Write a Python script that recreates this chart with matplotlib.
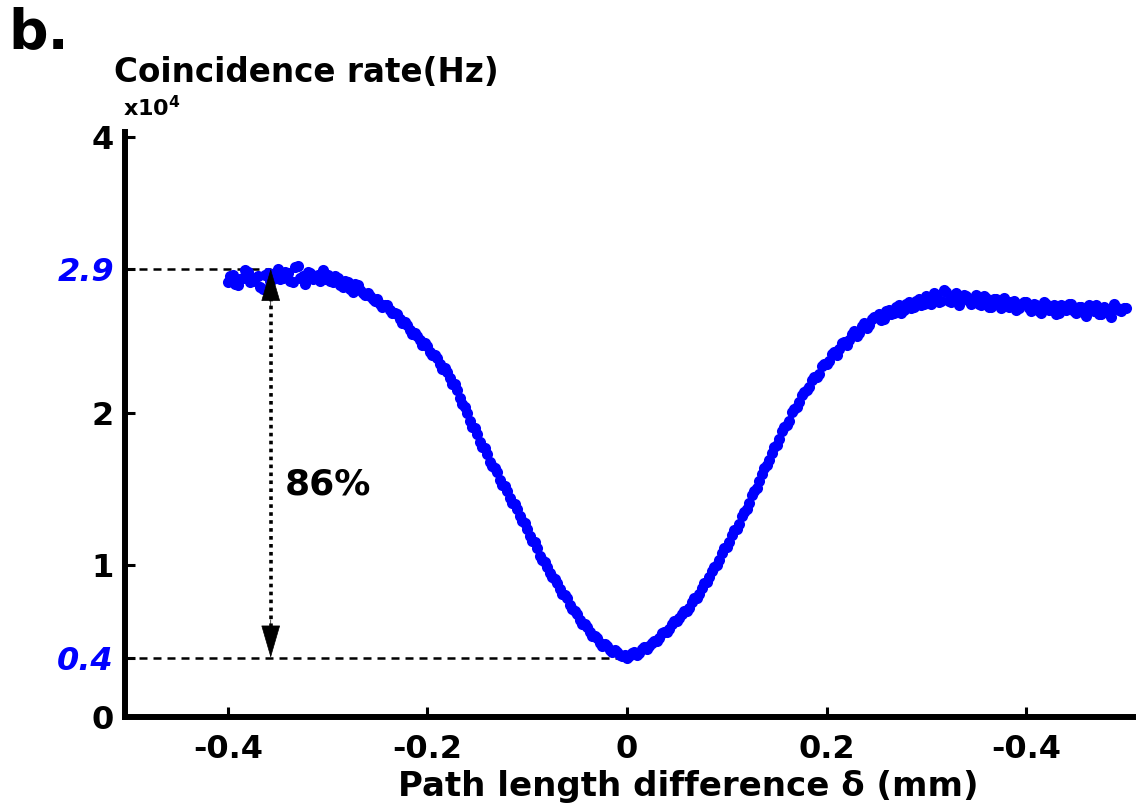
import numpy as np
import matplotlib
matplotlib.use('Agg')
import matplotlib.pyplot as plt

# HOM dip scan: two interleaved sweeps, coincidence rate in units of 1e4 Hz
x_a = np.round(np.arange(-0.400, 0.5001, 0.005), 4)
y_a = [2.86, 2.91, 2.84, 2.89, 2.93, 2.87, 2.90, 2.82, 2.92, 2.88,
       2.95, 2.89, 2.92, 2.86, 2.97, 2.90, 2.93, 2.88, 2.91, 2.94,
       2.91, 2.86, 2.89, 2.83, 2.86, 2.80, 2.84, 2.79, 2.79, 2.75,
       2.75, 2.70, 2.71, 2.66, 2.65, 2.59, 2.58, 2.52, 2.51, 2.45,
       2.44, 2.38, 2.36, 2.29, 2.27, 2.19, 2.15, 2.06, 2.00, 1.91,
       1.86, 1.78, 1.73, 1.65, 1.61, 1.53, 1.49, 1.41, 1.37, 1.29,
       1.24, 1.16, 1.11, 1.03, 0.99, 0.92, 0.88, 0.81, 0.78, 0.71,
       0.68, 0.61, 0.59, 0.53, 0.52, 0.47, 0.47, 0.43, 0.43, 0.40,
       0.39, 0.42, 0.41, 0.45, 0.45, 0.49, 0.50, 0.55, 0.56, 0.61,
       0.63, 0.68, 0.70, 0.76, 0.78, 0.85, 0.89, 0.96, 1.00, 1.08,
       1.12, 1.20, 1.24, 1.32, 1.37, 1.46, 1.51, 1.60, 1.66, 1.74,
       1.79, 1.88, 1.92, 2.01, 2.04, 2.12, 2.15, 2.22, 2.24, 2.31,
       2.32, 2.39, 2.38, 2.46, 2.45, 2.52, 2.51, 2.57, 2.56, 2.62,
       2.63, 2.61, 2.67, 2.65, 2.70, 2.66, 2.72, 2.69, 2.74, 2.71,
       2.77, 2.72, 2.78, 2.74, 2.80, 2.73, 2.79, 2.75, 2.77, 2.72,
       2.78, 2.71, 2.76, 2.70, 2.75, 2.69, 2.74, 2.73, 2.68, 2.72,
       2.73, 2.67, 2.71, 2.66, 2.72, 2.70, 2.65, 2.71, 2.68, 2.72,
       2.66, 2.70, 2.64, 2.69, 2.71, 2.65, 2.68, 2.63, 2.70, 2.67,
       2.69]

x_b = np.round(np.arange(-0.3975, 0.4976, 0.005), 4)
y_b = [2.90, 2.85, 2.88, 2.94, 2.86, 2.89, 2.83, 2.91, 2.87, 2.92,
       2.88, 2.93, 2.87, 2.96, 2.89, 2.85, 2.92, 2.90, 2.87, 2.88,
       2.87, 2.90, 2.84, 2.87, 2.82, 2.85, 2.81, 2.78, 2.77, 2.74,
       2.72, 2.71, 2.68, 2.66, 2.62, 2.60, 2.55, 2.53, 2.48, 2.46,
       2.40, 2.38, 2.32, 2.30, 2.23, 2.19, 2.10, 2.04, 1.95, 1.90,
       1.81, 1.77, 1.68, 1.64, 1.56, 1.52, 1.44, 1.40, 1.32, 1.28,
       1.19, 1.15, 1.06, 1.02, 0.95, 0.91, 0.84, 0.80, 0.74, 0.70,
       0.64, 0.61, 0.56, 0.53, 0.49, 0.48, 0.44, 0.44, 0.41, 0.41,
       0.40, 0.43, 0.42, 0.46, 0.47, 0.50, 0.52, 0.56, 0.58, 0.63,
       0.65, 0.70, 0.72, 0.78, 0.81, 0.88, 0.92, 0.99, 1.03, 1.11,
       1.15, 1.23, 1.27, 1.35, 1.41, 1.49, 1.55, 1.64, 1.69, 1.78,
       1.83, 1.91, 1.95, 2.03, 2.07, 2.14, 2.17, 2.24, 2.26, 2.32,
       2.34, 2.40, 2.42, 2.47, 2.48, 2.54, 2.53, 2.59, 2.58, 2.63,
       2.65, 2.62, 2.68, 2.66, 2.71, 2.68, 2.73, 2.70, 2.75, 2.72,
       2.75, 2.79, 2.73, 2.81, 2.74, 2.77, 2.71, 2.78, 2.74, 2.76,
       2.72, 2.77, 2.70, 2.75, 2.71, 2.76, 2.70, 2.74, 2.69, 2.73,
       2.69, 2.72, 2.67, 2.73, 2.68, 2.71, 2.66, 2.70, 2.72, 2.67,
       2.70, 2.66, 2.71, 2.67, 2.65, 2.70, 2.66, 2.72, 2.68, 2.69]

xticks = [-0.4, -0.2, 0, 0.2, 0.4]
xtick_labels = ['-0.4', '-0.2', '0', '0.2', '-0.4']
yticks = [0, 0.39, 1, 2, 2.95, 3.82]
ytick_labels = ['0', '0.4', '1', '2', '2.9', '4']
blue_ticks = [1, 4]

y_max_level = 2.95
y_min_level = 0.39
arrow_x = -0.357
visibility = '86%'

blue = '#0000ff'

fig = plt.figure(figsize=(11.4, 8.05), dpi=100)
ax = fig.add_axes([125 / 1140, 88 / 805, 1008 / 1140, 585 / 805])

ax.plot(x_a, y_a, 'o', color=blue, ms=8, mew=0)
ax.plot(x_b, y_b, 'o', color=blue, ms=8, mew=0)

ax.set_xlim(-0.503, 0.507)
ax.set_ylim(0, 3.85)

# guide lines
ax.plot([-0.503, arrow_x], [y_max_level, y_max_level], color='black', lw=1.8,
        dashes=(3.2, 2.4), zorder=1)
ax.plot([-0.503, 0.0], [y_min_level, y_min_level], color='black', lw=1.8,
        dashes=(3.2, 2.4), zorder=1)
ax.plot([arrow_x, arrow_x], [y_min_level + 0.15, y_max_level - 0.15], color='black',
        lw=2.6, dashes=(1, 1.2), zorder=3)
head = '-|>,head_length=1.1,head_width=0.32'
ax.annotate('', xy=(arrow_x, y_max_level), xytext=(arrow_x, y_max_level - 0.25),
            arrowprops=dict(arrowstyle=head, color='black', lw=0.5,
                            mutation_scale=20, shrinkA=0, shrinkB=0), zorder=4)
ax.annotate('', xy=(arrow_x, y_min_level), xytext=(arrow_x, y_min_level + 0.25),
            arrowprops=dict(arrowstyle=head, color='black', lw=0.5,
                            mutation_scale=20, shrinkA=0, shrinkB=0), zorder=4)
ax.text(-0.343, 1.53, visibility, fontsize=26, fontweight='bold', va='center', ha='left')

for s in ['top', 'right']:
    ax.spines[s].set_visible(False)
for s in ['left', 'bottom']:
    ax.spines[s].set_linewidth(4.3)
    ax.spines[s].set_capstyle('projecting')

ax.set_xticks(xticks, labels=xtick_labels)
ax.set_yticks(yticks, labels=ytick_labels)
ax.tick_params(direction='in', length=7, width=2.2, labelsize=23)
ax.tick_params(axis='x', pad=12)
ax.tick_params(axis='y', pad=8)
for lbl in ax.get_xticklabels() + ax.get_yticklabels():
    lbl.set_fontweight('bold')
ylbls = ax.get_yticklabels()
for i in blue_ticks:
    ylbls[i].set_color(blue)
    ylbls[i].set_fontstyle('italic')

fig.text(688 / 1140, 1 - 786 / 805, 'Path length difference δ (mm)', fontsize=24.5,
         fontweight='bold', ha='center', va='center')
fig.text(114 / 1140, 1 - 72 / 805, 'Coincidence rate(Hz)', fontsize=23.5,
         fontweight='bold', ha='left', va='center')
fig.text(123 / 1140, 1 - 108 / 805, r'x10$^\mathbf{4}$', fontsize=16,
         fontweight='bold', ha='left', va='center')
fig.text(8 / 1140, 1 - 33 / 805, 'b.', fontsize=40, fontweight='bold',
         ha='left', va='center')

plt.savefig('out.png', dpi=100)
